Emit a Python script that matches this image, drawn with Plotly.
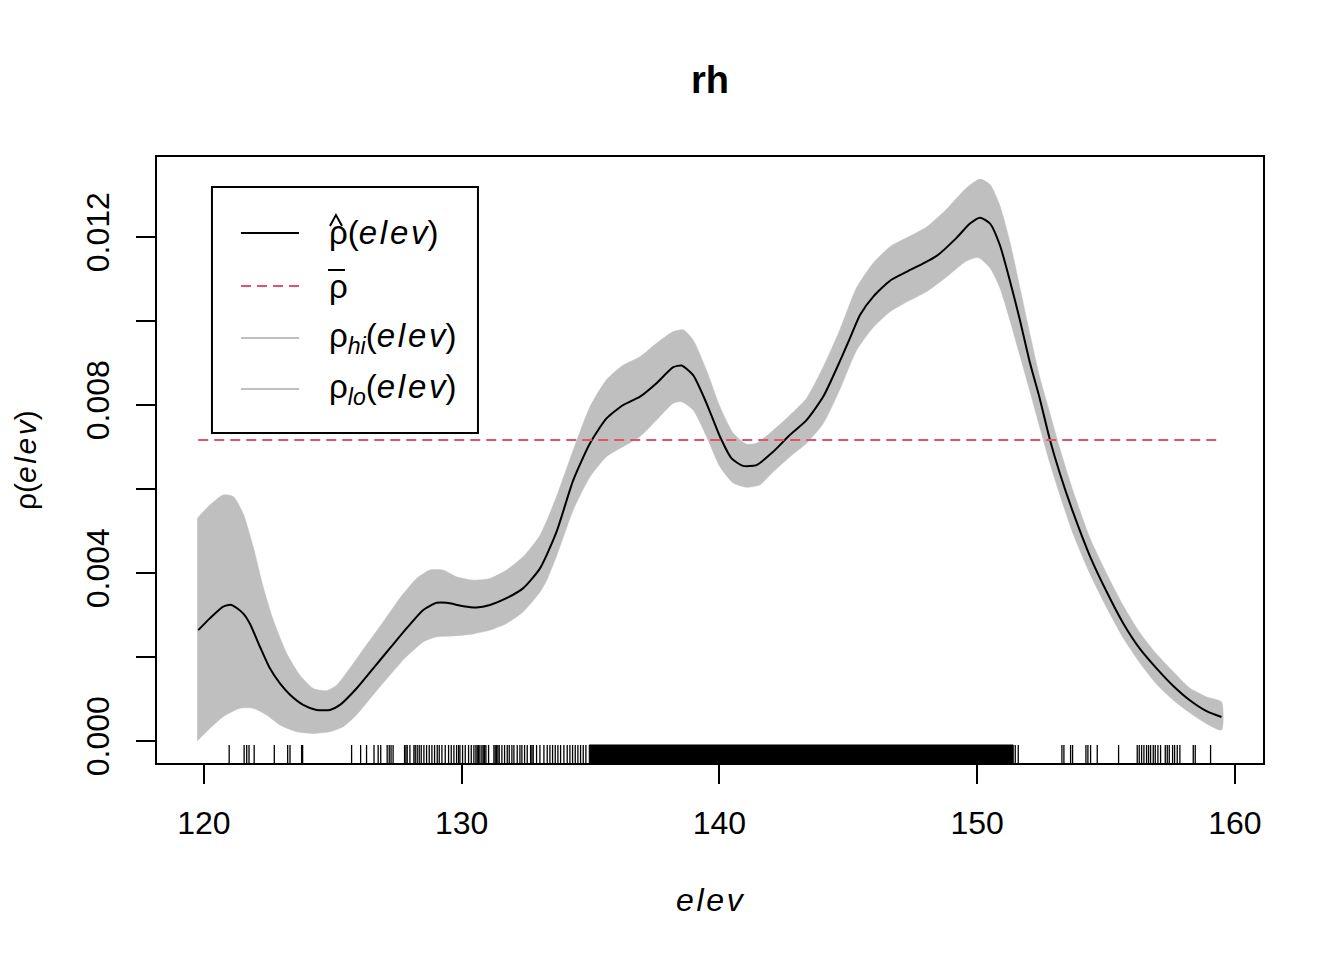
import plotly.graph_objects as go

# rhohat estimate for covariate elev
est_x = [119.78, 120.23, 120.75, 121.07, 121.52, 121.78, 122.17, 122.56, 122.95, 123.34,
         123.85, 124.37, 124.89, 125.28, 125.92, 126.57, 127.22, 127.86, 128.51, 129.03,
         129.42, 130.06, 130.58, 131.10, 131.74, 132.39, 133.04, 133.68, 134.33, 134.98,
         135.62, 136.27, 136.92, 137.56, 138.21, 138.53, 138.98, 139.50, 140.02, 140.47,
         140.92, 141.44, 142.09, 142.74, 143.38, 144.03, 144.68, 145.07, 145.46, 145.97,
         146.62, 147.26, 147.91, 148.43, 149.20, 149.72, 150.11, 150.50, 150.88, 151.27,
         151.66, 152.05, 152.43, 152.82, 153.21, 153.73, 154.37, 155.02, 155.67, 156.31,
         156.96, 157.61, 158.25, 158.90, 159.48]
est_y = [0.00264, 0.00292, 0.00320, 0.00324, 0.00304, 0.00280, 0.00225, 0.00173, 0.00137, 0.00110,
         0.00086, 0.00074, 0.00074, 0.00086, 0.00125, 0.00173, 0.00221, 0.00268, 0.00312, 0.00329,
         0.00329, 0.00321, 0.00318, 0.00324, 0.00340, 0.00364, 0.00411, 0.00498, 0.00621, 0.00709,
         0.00768, 0.00800, 0.00820, 0.00852, 0.00890, 0.00894, 0.00871, 0.00804, 0.00725, 0.00673,
         0.00655, 0.00657, 0.00689, 0.00729, 0.00764, 0.00820, 0.00905, 0.00960, 0.01015, 0.01058,
         0.01096, 0.01117, 0.01137, 0.01155, 0.01198, 0.01232, 0.01246, 0.01232, 0.01181, 0.01096,
         0.01002, 0.00900, 0.00815, 0.00718, 0.00637, 0.00543, 0.00441, 0.00356, 0.00280, 0.00220,
         0.00173, 0.00131, 0.00097, 0.00071, 0.00057]

hi_x = [119.74, 120.23, 120.75, 121.14, 121.52, 121.91, 122.30, 122.69, 123.21, 123.72,
        124.24, 124.76, 125.15, 125.66, 126.31, 126.96, 127.60, 128.25, 128.77, 129.28,
        129.80, 130.45, 131.10, 131.74, 132.39, 133.04, 133.68, 134.33, 134.98, 135.62,
        136.27, 136.92, 137.56, 138.21, 138.60, 138.98, 139.50, 140.02, 140.54, 141.05,
        141.44, 142.09, 142.74, 143.38, 144.03, 144.68, 145.32, 145.97, 146.62, 147.26,
        148.04, 148.81, 149.59, 150.11, 150.50, 150.88, 151.27, 151.66, 152.05, 152.43,
        152.82, 153.21, 153.73, 154.37, 155.02, 155.67, 156.31, 156.96, 157.61, 158.25,
        158.90, 159.48]
hi_y = [0.00530, 0.00562, 0.00586, 0.00582, 0.00542, 0.00463, 0.00367, 0.00288, 0.00209, 0.00157,
        0.00125, 0.00120, 0.00133, 0.00173, 0.00229, 0.00284, 0.00340, 0.00387, 0.00407, 0.00407,
        0.00391, 0.00383, 0.00387, 0.00407, 0.00439, 0.00490, 0.00582, 0.00693, 0.00796, 0.00860,
        0.00895, 0.00915, 0.00947, 0.00975, 0.00979, 0.00955, 0.00883, 0.00796, 0.00733, 0.00707,
        0.00709, 0.00740, 0.00776, 0.00816, 0.00891, 0.00980, 0.01079, 0.01138, 0.01177, 0.01198,
        0.01224, 0.01266, 0.01317, 0.01338, 0.01325, 0.01275, 0.01189, 0.01079, 0.00968, 0.00866,
        0.00781, 0.00696, 0.00594, 0.00484, 0.00399, 0.00322, 0.00258, 0.00207, 0.00165, 0.00126,
        0.00105, 0.00093]

lo_x = [119.74, 120.23, 120.75, 121.40, 121.91, 122.43, 122.95, 123.60, 124.24, 124.89,
        125.40, 125.92, 126.57, 127.22, 127.86, 128.51, 129.03, 129.67, 130.45, 131.10,
        131.74, 132.39, 133.04, 133.30, 133.68, 134.33, 134.98, 135.62, 136.27, 136.92,
        137.56, 138.21, 138.53, 138.98, 139.50, 140.02, 140.54, 141.05, 141.57, 142.09,
        142.74, 143.38, 144.03, 144.68, 145.32, 145.97, 146.62, 147.26, 148.04, 148.81,
        149.59, 150.04, 150.50, 150.88, 151.27, 151.66, 152.05, 152.43, 152.82, 153.21,
        153.73, 154.37, 155.02, 155.67, 156.31, 156.96, 157.61, 158.25, 158.90, 159.48]
lo_y = [0.00000, 0.00030, 0.00058, 0.00078, 0.00078, 0.00062, 0.00038, 0.00022, 0.00018, 0.00022,
        0.00034, 0.00062, 0.00110, 0.00157, 0.00201, 0.00236, 0.00248, 0.00250, 0.00255, 0.00264,
        0.00280, 0.00308, 0.00355, 0.00383, 0.00440, 0.00550, 0.00629, 0.00677, 0.00701, 0.00725,
        0.00764, 0.00804, 0.00808, 0.00788, 0.00725, 0.00653, 0.00614, 0.00604, 0.00610, 0.00641,
        0.00677, 0.00709, 0.00756, 0.00838, 0.00930, 0.00985, 0.01022, 0.01045, 0.01070, 0.01105,
        0.01143, 0.01151, 0.01126, 0.01079, 0.01002, 0.00917, 0.00832, 0.00747, 0.00662, 0.00586,
        0.00492, 0.00399, 0.00318, 0.00245, 0.00186, 0.00135, 0.00097, 0.00067, 0.00041, 0.00026]

rho_bar = 0.007167
rho_bar_x = [119.78, 159.48]

# rug of observed elev values (sparse ticks) and the solid dense stretch
rug_ticks = [120.98, 121.56, 121.66, 121.75, 121.95, 122.73, 123.25, 123.34, 123.79, 123.83,
             125.73, 126.08, 126.31, 126.60, 126.76, 126.86, 127.11, 127.19, 127.26, 127.34,
             127.785, 127.837, 127.888, 127.992, 128.147, 128.199, 128.276, 128.354, 128.432, 128.535,
             128.639, 128.742, 128.846, 128.949, 129.052, 129.130, 129.234, 129.363, 129.492, 129.596,
             129.699, 129.803, 129.880, 129.932, 130.035, 130.139, 130.268, 130.372, 130.475, 130.553,
             130.604, 130.656, 130.708, 130.785, 130.837, 130.889, 130.941, 131.044, 131.251, 131.303,
             131.354, 131.406, 131.458, 131.561, 131.665, 131.768, 131.846, 131.949, 132.027, 132.156,
             132.260, 132.337, 132.441, 132.544, 132.674, 132.725, 132.777, 132.906, 133.036, 133.191,
             133.320, 133.424, 133.527, 133.631, 133.734, 133.838, 133.967, 134.096, 134.200, 134.303,
             134.407, 134.510, 134.613, 134.717, 134.820,
             151.478, 151.594, 153.288, 153.366, 153.625, 153.702, 154.220, 154.297, 154.401, 154.659,
             155.487, 156.211, 156.289, 156.380, 156.470, 156.573, 156.651, 156.729, 156.832, 156.910,
             157.013, 157.116, 157.298, 157.375, 157.453, 157.582, 157.660, 157.763, 157.866, 158.384,
             158.461, 159.056]
rug_dense = [(134.95, 151.40)]

x_ticks = [120, 130, 140, 150, 160]
y_ticks = [0.000, 0.004, 0.008, 0.012]
y_ticktext = ["0.000", "0.004", "0.008", "0.012"]
y_minor = [0.002, 0.006, 0.010]

X_RANGE = [118.18, 161.09]
Y_RANGE = [-0.000524, 0.013905]
RUG_TOP = -0.0000952

FONT = "Liberation Sans, Arial, sans-serif"
GREY = "#BFBFBF"
RED = "#DF536B"
HS = "\u200a"
ELEV = "<i>e" + HS + "l" + HS + "e" + HS + "v</i>"

fig = go.Figure()

# confidence band
fig.add_trace(go.Scatter(
    x=hi_x + lo_x[::-1], y=hi_y + lo_y[::-1],
    fill="toself", fillcolor=GREY, mode="lines",
    line=dict(color=GREY, width=0.5, shape="spline", smoothing=0.6),
    hoverinfo="skip", showlegend=False))

# estimate
fig.add_trace(go.Scatter(
    x=est_x, y=est_y, mode="lines",
    line=dict(color="black", width=2, shape="spline", smoothing=0.6),
    showlegend=False))

# theoretical constant
fig.add_trace(go.Scatter(
    x=rho_bar_x, y=[rho_bar, rho_bar], mode="lines",
    line=dict(color=RED, width=2, dash="10px,6px"),
    showlegend=False))

# rug
rx, ry = [], []
for v in rug_ticks:
    rx += [v, v, None]
    ry += [Y_RANGE[0], RUG_TOP, None]
fig.add_trace(go.Scatter(x=rx, y=ry, mode="lines",
                         line=dict(color="black", width=1.3),
                         hoverinfo="skip", showlegend=False))
for a, b in rug_dense:
    fig.add_trace(go.Scatter(
        x=[a, b, b, a, a], y=[Y_RANGE[0], Y_RANGE[0], RUG_TOP, RUG_TOP, Y_RANGE[0]],
        fill="toself", fillcolor="black", mode="lines",
        line=dict(color="black", width=1), hoverinfo="skip", showlegend=False))

# hand-drawn legend (R style box)
fig.add_shape(type="rect", xref="paper", yref="paper",
              x0=0.0497, x1=0.2902, y0=0.5446, y1=0.9505,
              line=dict(color="black", width=2), fillcolor="rgba(0,0,0,0)")
leg_rows = [0.8746, 0.7871, 0.7013, 0.6172]
leg_styles = [dict(color="black", width=2),
              dict(color=RED, width=2, dash="10px,6px"),
              dict(color=GREY, width=2),
              dict(color=GREY, width=2)]
leg_text = ["\u03c1(" + ELEV + ")",
            "\u03c1",
            "\u03c1<sub><i>hi</i></sub>(" + ELEV + ")",
            "\u03c1<sub><i>lo</i></sub>(" + ELEV + ")"]
for yy, st, tx in zip(leg_rows, leg_styles, leg_text):
    fig.add_shape(type="line", xref="paper", yref="paper",
                  x0=0.0759, x1=0.1284, y0=yy, y1=yy, line=st)
    fig.add_annotation(x=0.1537, y=yy, xref="paper", yref="paper", text=tx,
                       showarrow=False, xanchor="left", yanchor="middle",
                       font=dict(family=FONT, size=33, color="black"))
# hat over rho (row 1) and bar over rho (row 2)
fig.add_shape(type="path", xref="paper", yref="paper",
              path="M 0.1564 0.8862 L 0.1618 0.9043 L 0.1673 0.8862",
              line=dict(color="black", width=2))
fig.add_shape(type="line", xref="paper", yref="paper",
              x0=0.1546, x1=0.1700, y0=0.8135, y1=0.8135,
              line=dict(color="black", width=2))

# titles
fig.add_annotation(x=0.5, y=1.127, xref="paper", yref="paper", text="<b>rh</b>",
                   showarrow=False, xanchor="center", yanchor="middle",
                   font=dict(family=FONT, size=38, color="black"))
fig.add_annotation(x=0.5, y=-0.2261, xref="paper", yref="paper", text=ELEV,
                   showarrow=False, xanchor="center", yanchor="middle",
                   font=dict(family=FONT, size=32, color="black"))
fig.add_annotation(x=-0.1194, y=0.5, xref="paper", yref="paper",
                   text="\u03c1(" + ELEV + ")", textangle=-90,
                   showarrow=False, xanchor="center", yanchor="middle",
                   font=dict(family=FONT, size=30, color="black"))

# page body has an 8px margin, so the figure is trimmed to keep the plot box in place
fig.update_layout(
    width=1336, height=952,
    margin=dict(l=149, r=81, t=149, b=197),
    paper_bgcolor="white", plot_bgcolor="white",
    font=dict(family=FONT, size=32, color="black"),
    showlegend=False,
)
fig.update_xaxes(range=X_RANGE, tickvals=x_ticks, ticks="outside", ticklen=19,
                 tickwidth=2, tickcolor="black", showline=True, linecolor="black",
                 linewidth=2, mirror=True, showgrid=False, zeroline=False,
                 ticklabelstandoff=12, tickfont=dict(size=32))
fig.update_yaxes(range=Y_RANGE, tickvals=y_ticks, ticktext=y_ticktext, tickangle=-90,
                 ticks="outside", ticklen=19, tickwidth=2, tickcolor="black",
                 minor=dict(tickvals=y_minor, ticks="outside", ticklen=19,
                            tickwidth=2, tickcolor="black", showgrid=False),
                 showline=True, linecolor="black", linewidth=2, mirror=True,
                 showgrid=False, zeroline=False, ticklabelstandoff=14,
                 tickfont=dict(size=32))

fig.write_html("out.html")
